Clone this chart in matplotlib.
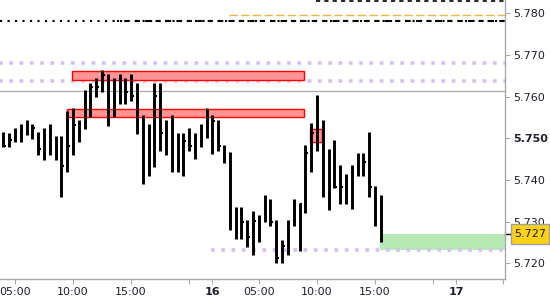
import matplotlib
matplotlib.use('Agg')
import matplotlib.pyplot as plt
import matplotlib.patches as mpatches
import matplotlib.transforms as mtransforms
import numpy as np

# 30-min HLC bars, index 0 = day 15 04:00
highs = [5.7514, 5.7512, 5.7524, 5.7534, 5.7544, 5.7534, 5.7514, 5.7524, 5.7534, 5.7506,
         5.7506, 5.7566, 5.7572, 5.7544, 5.7616, 5.7632, 5.7644, 5.7664, 5.7654, 5.7644,
         5.7654, 5.7644, 5.7654, 5.7632, 5.7556, 5.7534, 5.7632, 5.7632, 5.7544, 5.7556,
         5.7512, 5.7512, 5.7524, 5.7512, 5.7534, 5.7572, 5.7556, 5.7544, 5.7484, 5.7466,
         5.7334, 5.7334, 5.7304, 5.7326, 5.7316, 5.7364, 5.7354, 5.7304, 5.7256, 5.7304,
         5.7354, 5.7344, 5.7484, 5.7536, 5.7604, 5.7544, 5.7474, 5.7496, 5.7436, 5.7414,
         5.7436, 5.7464, 5.7464, 5.7514, 5.7386, 5.7364]
lows = [5.7478, 5.7478, 5.7490, 5.7490, 5.7509, 5.7498, 5.7460, 5.7448, 5.7460, 5.7448,
        5.7358, 5.7418, 5.7460, 5.7490, 5.7522, 5.7550, 5.7598, 5.7610, 5.7530, 5.7550,
        5.7582, 5.7582, 5.7590, 5.7510, 5.7390, 5.7410, 5.7430, 5.7470, 5.7460, 5.7418,
        5.7418, 5.7410, 5.7470, 5.7450, 5.7478, 5.7500, 5.7462, 5.7470, 5.7440, 5.7280,
        5.7258, 5.7258, 5.7238, 5.7220, 5.7250, 5.7300, 5.7290, 5.7200, 5.7200, 5.7220,
        5.7290, 5.7230, 5.7320, 5.7418, 5.7470, 5.7358, 5.7328, 5.7380, 5.7342, 5.7342,
        5.7330, 5.7410, 5.7410, 5.7358, 5.7290, 5.7250]
closes = [5.7482, 5.7496, 5.7514, 5.7524, 5.7512, 5.7524, 5.7474, 5.7494, 5.7474, 5.7462,
          5.7434, 5.7482, 5.7532, 5.7532, 5.7572, 5.7624, 5.7624, 5.7652, 5.7568, 5.7630,
          5.7584, 5.7612, 5.7602, 5.7524, 5.7422, 5.7474, 5.7602, 5.7512, 5.7512, 5.7450,
          5.7442, 5.7494, 5.7482, 5.7506, 5.7524, 5.7532, 5.7542, 5.7482, 5.7452, 5.7292,
          5.7324, 5.7300, 5.7264, 5.7302, 5.7292, 5.7344, 5.7300, 5.7212, 5.7242, 5.7300,
          5.7324, 5.7342, 5.7464, 5.7512, 5.7520, 5.7382, 5.7456, 5.7382, 5.7382, 5.7372,
          5.7422, 5.7434, 5.7444, 5.7382, 5.7300, 5.7270]

tick_pos = [2, 12, 22, 32, 36, 44, 54, 64, 74, 78, 86]
tick_labels = ['05:00', '10:00', '15:00', '', '16', '05:00', '10:00', '15:00', '', '17', '']
bold_labels = ['16', '17']

# supply/demand zones: (start bar, end bar, low, high)
red_zones = [(11.9, 51.8, 5.7641, 5.7661), (11.0, 51.8, 5.7552, 5.7570), (52.8, 54.8, 5.7492, 5.7522)]
green_zone = (64.9, 5.7232, 5.7270)
lavender_levels = [(-1, 5.7681), (-1, 5.7638), (35.8, 5.7232)]
gray_level = 5.7613
dotted_level = 5.7782
dashed_start = 19.6
orange_level = (38.9, 5.7795)
top_level = (53.8, 5.7830)
last_price = 5.727

x = np.arange(len(highs))
xmin, xmax = -0.586, 86.39
ymin, ymax = 5.71623, 5.78319

fig = plt.figure(figsize=(5.5, 3), dpi=100)
ax = fig.add_axes([0, 0.07, 505 / 550, 0.93])
ax.set_xlim(xmin, xmax)
ax.set_ylim(ymin, ymax)

for x0, x1, lo, hi in red_zones:
    ax.add_patch(mpatches.Rectangle((x0, lo), x1 - x0, hi - lo, facecolor='#ff9494',
                                    edgecolor='#ff0000', lw=1, zorder=3))
ax.add_patch(mpatches.Rectangle((green_zone[0], green_zone[1]), xmax - green_zone[0],
                                green_zone[2] - green_zone[1], facecolor='#b6e9b4',
                                edgecolor='none', zorder=1))

for start, lvl in lavender_levels:
    ax.hlines(lvl, start, xmax, color='#d9bdf0', lw=2.6, linestyles=[(0, (1, 1.85))], zorder=2)
ax.axhline(gray_level, color='#aaaaaa', lw=0.9, zorder=2)
ax.hlines(dotted_level, xmin, xmax, color='black', lw=1.5, linestyles=[(0, (1, 2.6))], zorder=2)
ax.hlines(dotted_level, dashed_start, xmax, color='black', lw=1.5, linestyles=[(1.5, (2.5, 2.5))], zorder=2)
ax.hlines(orange_level[1], orange_level[0], xmax, color='#f0b440', lw=1.0,
          linestyles=[(0, (6, 2.4))], zorder=2)
ax.hlines(top_level[1], top_level[0], xmax, color='black', lw=1.2,
          linestyles=[(0, (2.5, 2.5))], zorder=2)

ax.vlines(x, lows, highs, color='black', lw=2.1, zorder=4)
ax.hlines(closes, x, x + 0.42, color='black', lw=1.5, zorder=4)

for s in ['left', 'top']:
    ax.spines[s].set_visible(False)
for s in ['right', 'bottom']:
    ax.spines[s].set_color('#aaaaaa')
    ax.spines[s].set_linewidth(1)

ax.yaxis.tick_right()
yt = np.round(np.arange(5.72, 5.7801, 0.01), 3)
ax.set_yticks(yt)
ax.set_yticklabels(['%.3f' % v for v in yt])
ax.set_xticks(tick_pos)
ax.set_xticklabels(tick_labels)
ax.tick_params(axis='both', colors='#aaaaaa', labelcolor='#1e1e2a', labelsize=8, length=3.5)
ax.tick_params(axis='x', pad=2)
ax.tick_params(axis='y', pad=2.5)
for lab in ax.get_xticklabels():
    if lab.get_text() in bold_labels:
        lab.set_fontweight('bold')
for lab in ax.get_yticklabels():
    if lab.get_text() == '5.750':
        lab.set_fontweight('bold')

# last price marker
tr = mtransforms.blended_transform_factory(fig.transFigure, ax.transData)
ax.plot([1.0, 1.012], [last_price, last_price], color='black', lw=1,
        transform=mtransforms.blended_transform_factory(ax.transAxes, ax.transData), clip_on=False)
box_h = 20 * (ymax - ymin) / 279
fig.add_artist(mpatches.Rectangle((511 / 550, last_price - box_h / 2), 38 / 550, box_h,
                                  transform=tr, facecolor='#fcd116', edgecolor='#a0a0a0', lw=1))
fig.text(514 / 550, last_price, '%.3f' % last_price, transform=tr, va='center', ha='left',
         fontsize=8, color='#1e1e2a')

fig.savefig('out.png', dpi=100)
